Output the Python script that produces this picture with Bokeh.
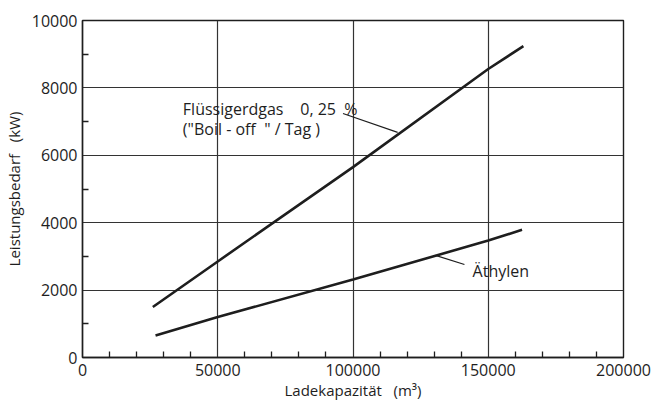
from bokeh.plotting import figure
from bokeh.models import FixedTicker, Label, NumeralTickFormatter
from bokeh.embed import file_html
from bokeh.resources import INLINE

# Data
lng_x = [26000, 50000, 100000, 150000, 163000]
lng_y = [1500, 2850, 5650, 8560, 9240]
eth_x = [27000, 50000, 100000, 150000, 162500]
eth_y = [650, 1200, 2315, 3470, 3790]

x_major = [0, 50000, 100000, 150000, 200000]
x_minor = [10000, 20000, 30000, 40000, 60000, 70000, 80000, 90000,
           110000, 120000, 130000, 140000, 160000, 170000, 180000, 190000]
y_major = [0, 2000, 4000, 6000, 8000, 10000]
y_minor = [1000, 3000, 5000, 7000, 9000]

FONT = "Open Sans"
INK = "#1e1e1e"
NB = "\u00a0"

p = figure(width=660, height=403, output_backend="svg", toolbar_location=None,
           x_range=(0, 200000), y_range=(0, 10000),
           min_border_left=81, min_border_right=37, min_border_top=20, min_border_bottom=46,
           background_fill_color="white", border_fill_color="white")

p.outline_line_color = INK
p.outline_line_width = 1.4

for ax, maj, mn in ((p.xaxis[0], x_major, x_minor), (p.yaxis[0], y_major, y_minor)):
    ax.ticker = FixedTicker(ticks=maj, minor_ticks=mn)
    ax.formatter = NumeralTickFormatter(format="0")
    ax.major_tick_in = 0
    ax.major_tick_out = 0
    ax.minor_tick_in = 6
    ax.minor_tick_out = 0
    ax.minor_tick_line_color = INK
    ax.minor_tick_line_width = 1.3
    ax.axis_line_color = INK
    ax.axis_line_width = 1.4
    ax.major_label_text_font = FONT
    ax.major_label_text_font_size = "16px"
    ax.major_label_text_color = INK
    ax.axis_label_text_font = FONT
    ax.axis_label_text_font_size = "15px"
    ax.axis_label_text_font_style = "normal"
    ax.axis_label_text_color = INK

p.xaxis[0].major_label_standoff = 6
p.xaxis[0].axis_label_standoff = 1
p.yaxis[0].major_label_standoff = 5
p.yaxis[0].axis_label_standoff = 5
p.xaxis[0].axis_label = "Ladekapazität" + NB * 3 + "(m³)"
p.yaxis[0].axis_label = "Leistungsbedarf" + NB * 3 + "(kW)"

p.xgrid.ticker = FixedTicker(ticks=[50000, 100000, 150000])
p.ygrid.ticker = FixedTicker(ticks=[2000, 4000, 6000, 8000])
for g in (p.xgrid[0], p.ygrid[0]):
    g.grid_line_color = "#333333"
    g.grid_line_width = 1.2

p.line(lng_x, lng_y, line_color=INK, line_width=2.6)
p.line(eth_x, eth_y, line_color=INK, line_width=2.6)

# leader lines
p.segment(x0=[96300, 141200], y0=[7240, 2760], x1=[116500, 130500], y1=[6680, 3030],
          line_color=INK, line_width=1.2)

for txt, x, y in (("Flüssigerdgas", 37100, 7380),
                  ("0," + NB + "25" + NB * 2 + "%", 80500, 7380),
                  ("(\"Boil" + NB + "-" + NB + "off" + NB * 2 + "\"" + NB + "/" + NB + "Tag" + NB + ")", 37100, 6790),
                  ("Äthylen", 144200, 2560)):
    p.add_layout(Label(x=x, y=y, text=txt, text_font=FONT, text_font_size="16px",
                       text_color=INK, text_baseline="alphabetic"))

open("out.html", "w").write(file_html(p, INLINE))
